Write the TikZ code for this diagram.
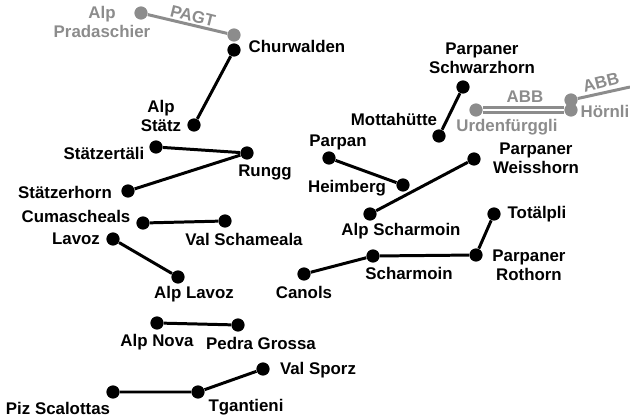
\documentclass[tikz,border=0pt]{standalone}
\usepackage{fontspec}
\usepackage{xcolor}
\usepackage{tikz}
\setmainfont{Liberation Sans}
\definecolor{LiftGray}{RGB}{140,140,140}
\tikzset{
	stop/.style={circle, fill=black, inner sep=0pt, minimum size=0.265cm},
	oldstop/.style={circle, fill=LiftGray, inner sep=0pt, minimum size=0.265cm},
	lift/.style={line width=1.7pt, black},
	oldlift/.style={line width=1.7pt, LiftGray},
	place/.style={font=\fontsize{9.6}{10.8}\selectfont\bfseries, align=center, inner sep=0pt, text=black},
	oldplace/.style={place, text=LiftGray}
}

\begin{document}
\begin{tikzpicture}[x=0.02cm, y=-0.02cm]
	\useasboundingbox (0,0) rectangle (630,420);

	% stillgelegte Anlagen
	\node[oldstop] (pradaschier) at (141,13) {};
	\node[oldstop] (pagtend) at (234,35) {};
	\node[oldstop] (urden) at (476,110) {};
	\node[oldstop] (hoernli) at (571,110) {};
	\node[oldstop] (hoernlitop) at (571,100) {};
	\coordinate (abbend) at (630,87);
	\draw[oldlift] (pradaschier) -- (pagtend);
	\draw[oldlift] (hoernlitop) -- (abbend);
	\draw[LiftGray, line width=1.5pt, double=white, double distance=1.1pt] (urden) -- (hoernli);

	\node[oldplace] (lblpradaschier) at (102,22) {Alp\\Pradaschier};
	\node[oldplace, rotate=-14] (lblpagt) at (193,16) {PAGT};
	\node[oldplace] (lblabb) at (525,97) {ABB};
	\node[oldplace, rotate=14] (lblabbtop) at (601,82) {ABB};
	\node[oldplace] (lblurden) at (507,127) {Urdenfürggli};
	\node[oldplace] (lblhoernli) at (605,111) {Hörnli};

	% Anlagen
	\node[stop] (churwalden) at (234,50) {};
	\node[stop] (stitz) at (194,125) {};
	\node[stop] (staetzertaeli) at (156,147) {};
	\node[stop] (rungg) at (247,153) {};
	\node[stop] (staetzerhorn) at (128,191) {};
	\node[stop] (cumascheals) at (143,223) {};
	\node[stop] (schameala) at (225,221) {};
	\node[stop] (lavoz) at (113,239) {};
	\node[stop] (alplavoz) at (178,277) {};
	\node[stop] (alpnova) at (157,323) {};
	\node[stop] (pedra) at (238,325) {};
	\node[stop] (scalottas) at (113,392) {};
	\node[stop] (tgantieni) at (198,392) {};
	\node[stop] (sporz) at (263,369) {};
	\node[stop] (canols) at (304,274) {};
	\node[stop] (scharmoin) at (373,256) {};
	\node[stop] (rothorn) at (476,255) {};
	\node[stop] (totaelpli) at (494,214) {};
	\node[stop] (alpscharmoin) at (370,214) {};
	\node[stop] (weisshorn) at (474,159) {};
	\node[stop] (heimberg) at (403,185) {};
	\node[stop] (parpan) at (329,158) {};
	\node[stop] (motta) at (439,136) {};
	\node[stop] (schwarzhorn) at (463,87) {};

	\draw[lift] (churwalden) -- (stitz);
	\draw[lift] (staetzertaeli) -- (rungg) -- (staetzerhorn);
	\draw[lift] (cumascheals) -- (schameala);
	\draw[lift] (lavoz) -- (alplavoz);
	\draw[lift] (alpnova) -- (pedra);
	\draw[lift] (scalottas) -- (tgantieni) -- (sporz);
	\draw[lift] (canols) -- (scharmoin) -- (rothorn) -- (totaelpli);
	\draw[lift] (alpscharmoin) -- (weisshorn);
	\draw[lift] (parpan) -- (heimberg);
	\draw[lift] (motta) -- (schwarzhorn);

	\node[place] (lblchurwalden) at (297,46) {Churwalden};
	\node[place] (lblstitz) at (161,116) {Alp\\Stätz};
	\node[place] (lblstaetzertaeli) at (104,153) {Stätzertäli};
	\node[place] (lblrungg) at (265,172) {Rungg};
	\node[place] (lblstaetzerhorn) at (65,192) {Stätzerhorn};
	\node[place] (lblcumascheals) at (76,216) {Cumascheals};
	\node[place] (lbllavoz) at (76,239) {Lavoz};
	\node[place] (lblschameala) at (244,239) {Val Schameala};
	\node[place] (lblalplavoz) at (194,294) {Alp Lavoz};
	\node[place] (lblcanols) at (304,292) {Canols};
	\node[place] (lblalpscharmoin) at (401,231) {Alp Scharmoin};
	\node[place] (lblscharmoin) at (409,273) {Scharmoin};
	\node[place] (lblrothorn) at (529,265) {Parpaner\\Rothorn};
	\node[place] (lbltotaelpli) at (537,214) {Totälpli};
	\node[place] (lblheimberg) at (347,188) {Heimberg};
	\node[place] (lblparpan) at (338,142) {Parpan};
	\node[place] (lblmotta) at (394,119) {Mottahütte};
	\node[place] (lblschwarzhorn) at (482,58) {Parpaner\\Schwarzhorn};
	\node[place] (lblweisshorn) at (536,158) {Parpaner\\Weisshorn};
	\node[place] (lblalpnova) at (157,342) {Alp Nova};
	\node[place] (lblpedra) at (261,343) {Pedra Grossa};
	\node[place] (lblsporz) at (318,370) {Val Sporz};
	\node[place] (lbltgantieni) at (246,407) {Tgantieni};
	\node[place] (lblscalottas) at (58,408) {Piz Scalottas};
\end{tikzpicture}
\end{document}
